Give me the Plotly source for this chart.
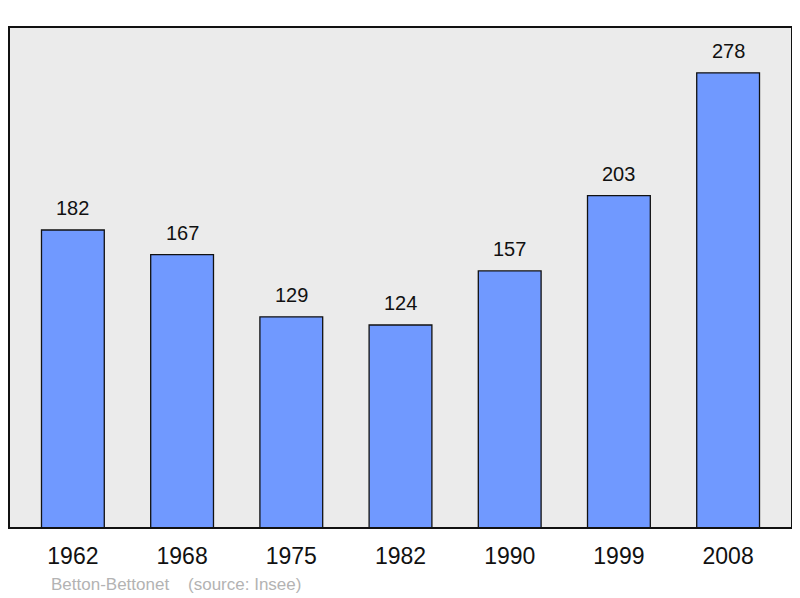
import plotly.graph_objects as go

years = ["1962", "1968", "1975", "1982", "1990", "1999", "2008"]
population = [182, 167, 129, 124, 157, 203, 278]
source_text = "Betton-Bettonet    (source: Insee)"

fig = go.Figure()
fig.add_trace(go.Bar(
    x=years, y=population, width=0.575,
    marker=dict(color="#7099ff", line=dict(color="#111111", width=1.3)),
    hoverinfo="skip",
))

for i, v in enumerate(population):
    fig.add_annotation(x=i, y=v, text=str(v), showarrow=False,
                       yshift=22, font=dict(family="Liberation Sans, Arial", size=20, color="#111111"))

fig.add_annotation(xref="paper", yref="paper", x=0.051, y=-0.112, xanchor="left", yanchor="middle",
                   text=source_text, showarrow=False,
                   font=dict(family="Liberation Sans, Arial", size=17, color="#b3b3b3"))

fig.add_shape(type="rect", xref="paper", yref="paper", x0=0, x1=1, y0=0, y1=1,
              line=dict(color="#111111", width=2), layer="above")

fig.update_layout(
    width=792, height=590,
    margin=dict(l=1, r=8, t=19, b=70),
    paper_bgcolor="white", plot_bgcolor="#ebebeb",
    showlegend=False,
    xaxis=dict(type="category", range=[-0.585, 6.585], showgrid=False, zeroline=False,
               ticks="", showline=False, ticklabelstandoff=12,
               tickfont=dict(family="Liberation Sans, Arial", size=23, color="#111111")),
    yaxis=dict(range=[0, 306], showgrid=False, zeroline=False, showticklabels=False, ticks=""),
)

fig.write_html("out.html")
